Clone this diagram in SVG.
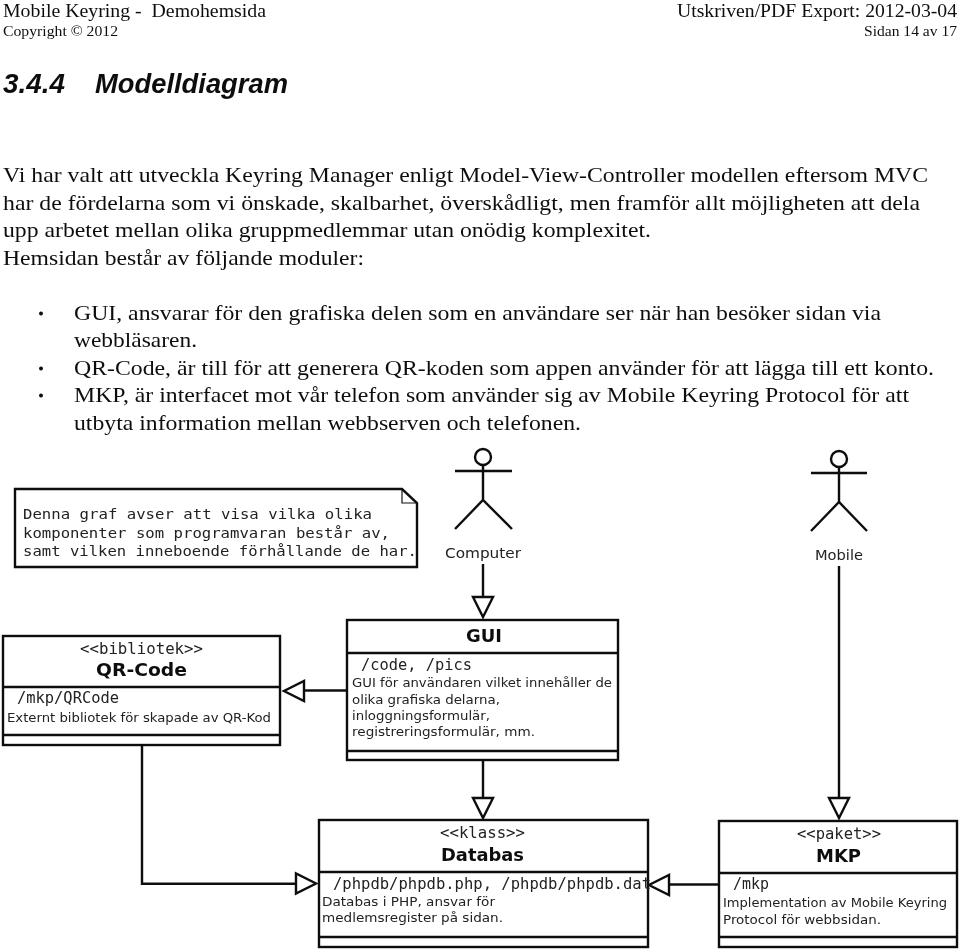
<svg xmlns="http://www.w3.org/2000/svg" width="960" height="949" viewBox="0 0 960 949">
<defs>
<filter id="soft" x="0" y="0" width="100%" height="100%" filterUnits="userSpaceOnUse" primitiveUnits="userSpaceOnUse"><feGaussianBlur stdDeviation="0.4"/></filter>
</defs>
<style>
text{white-space:pre}
.s{font-family:"Liberation Serif","Times New Roman",serif;fill:#111}
.b{font-size:22px}
.h1{font-size:19px}
.h2{font-size:14.7px}
.hd{font-family:"Liberation Sans",Arial,sans-serif;font-weight:bold;font-style:italic;font-size:27px;fill:#111}
.m{font-family:"DejaVu Sans Mono",monospace;fill:#222;font-size:15.3px}
.n{font-family:"DejaVu Sans Mono",monospace;fill:#222;font-size:14.6px}
.d{font-family:"DejaVu Sans",sans-serif;fill:#222;font-size:12.5px}
.a{font-family:"DejaVu Sans",sans-serif;fill:#222;font-size:14px}
.t{font-family:"DejaVu Sans",sans-serif;font-weight:bold;fill:#111;font-size:18px}
.box{fill:#fff;stroke:#111;stroke-width:2.4}
.ln{fill:none;stroke:#111;stroke-width:2.4}
.thin{fill:none;stroke:#111;stroke-width:1.2}
.tri{fill:#fff;stroke:#111;stroke-width:2.4;stroke-linejoin:miter}
.bul{fill:#111}
</style>
<rect width="960" height="949" fill="#fff"/>
<g filter="url(#soft)">
<g id="page-text">
<text class="s h1" x="3" y="17" textLength="263" lengthAdjust="spacingAndGlyphs">Mobile Keyring -  Demohemsida</text>
<text class="s h2" x="3" y="36" textLength="115" lengthAdjust="spacingAndGlyphs">Copyright © 2012</text>
<text class="s h1" x="677" y="17" textLength="280" lengthAdjust="spacingAndGlyphs">Utskriven/PDF Export: 2012-03-04</text>
<text class="s h2" x="864" y="36" textLength="93" lengthAdjust="spacingAndGlyphs">Sidan 14 av 17</text>
<text class="hd" x="3" y="93" textLength="62" lengthAdjust="spacingAndGlyphs">3.4.4</text>
<text class="hd" x="95" y="93" textLength="193" lengthAdjust="spacingAndGlyphs">Modelldiagram</text>
<text class="s b" x="3" y="182" textLength="925" lengthAdjust="spacingAndGlyphs">Vi har valt att utveckla Keyring Manager enligt Model-View-Controller modellen eftersom MVC</text>
<text class="s b" x="3" y="210" textLength="917" lengthAdjust="spacingAndGlyphs">har de fördelarna som vi önskade, skalbarhet, överskådligt, men framför allt möjligheten att dela</text>
<text class="s b" x="3" y="237" textLength="648" lengthAdjust="spacingAndGlyphs">upp arbetet mellan olika gruppmedlemmar utan onödig komplexitet.</text>
<text class="s b" x="3" y="265" textLength="361" lengthAdjust="spacingAndGlyphs">Hemsidan består av följande moduler:</text>
<circle class="bul" cx="41" cy="313.5" r="2"/>
<text class="s b" x="74" y="320" textLength="807" lengthAdjust="spacingAndGlyphs">GUI, ansvarar för den grafiska delen som en användare ser när han besöker sidan via</text>
<text class="s b" x="74" y="347" textLength="123" lengthAdjust="spacingAndGlyphs">webbläsaren.</text>
<circle class="bul" cx="41" cy="368.5" r="2"/>
<text class="s b" x="74" y="375" textLength="860" lengthAdjust="spacingAndGlyphs">QR-Code, är till för att generera QR-koden som appen använder för att lägga till ett konto.</text>
<circle class="bul" cx="41" cy="395.5" r="2"/>
<text class="s b" x="74" y="402" textLength="835" lengthAdjust="spacingAndGlyphs">MKP, är interfacet mot vår telefon som använder sig av Mobile Keyring Protocol för att</text>
<text class="s b" x="74" y="430" textLength="507" lengthAdjust="spacingAndGlyphs">utbyta information mellan webbserven och telefonen.</text>
</g>
<g id="note">
<path class="box" d="M15 489H402L417 503V567H15Z"/>
<path class="thin" d="M402 489V503H417"/>
<text class="n" x="23" y="519" textLength="349" lengthAdjust="spacingAndGlyphs">Denna graf avser att visa vilka olika</text>
<text class="n" x="23" y="537.5" textLength="367" lengthAdjust="spacingAndGlyphs">komponenter som programvaran består av,</text>
<text class="n" x="23" y="556" textLength="394" lengthAdjust="spacingAndGlyphs">samt vilken inneboende förhållande de har.</text>
</g>
<g id="actor-computer">
<circle class="ln" cx="483" cy="457" r="8"/>
<path class="ln" d="M483 465V500M455 471H512M455 529L483 500L512 529"/>
<text class="a" x="445" y="557.5" textLength="76" lengthAdjust="spacingAndGlyphs">Computer</text>
</g>
<g id="actor-mobile">
<circle class="ln" cx="839" cy="459" r="8"/>
<path class="ln" d="M839 467V502M811 473H867M811 531L839 502L867 531"/>
<text class="a" x="815" y="560" textLength="48" lengthAdjust="spacingAndGlyphs">Mobile</text>
</g>
<g id="qr-code">
<rect class="box" x="3" y="636" width="277" height="109"/>
<path class="ln" d="M3 687H280M3 735H280"/>
<text class="m" x="80" y="654" textLength="123" lengthAdjust="spacingAndGlyphs">&lt;&lt;bibliotek&gt;&gt;</text>
<text class="t" x="96" y="676" textLength="91" lengthAdjust="spacingAndGlyphs">QR-Code</text>
<text class="m" x="17" y="703" textLength="102" lengthAdjust="spacingAndGlyphs">/mkp/QRCode</text>
<text class="d" x="7" y="722" textLength="264" lengthAdjust="spacingAndGlyphs">Externt bibliotek för skapade av QR-Kod</text>
</g>
<g id="gui">
<rect class="box" x="347" y="620" width="271" height="140"/>
<path class="ln" d="M347 653H618M347 751H618"/>
<text class="t" x="466" y="642" textLength="36" lengthAdjust="spacingAndGlyphs">GUI</text>
<text class="m" x="361" y="670" textLength="111" lengthAdjust="spacingAndGlyphs">/code, /pics</text>
<text class="d" x="352" y="687" textLength="260" lengthAdjust="spacingAndGlyphs">GUI för användaren vilket innehåller de</text>
<text class="d" x="352" y="704" textLength="148" lengthAdjust="spacingAndGlyphs">olika grafiska delarna,</text>
<text class="d" x="352" y="720" textLength="138" lengthAdjust="spacingAndGlyphs">inloggningsformulär,</text>
<text class="d" x="352" y="736" textLength="183" lengthAdjust="spacingAndGlyphs">registreringsformulär, mm.</text>
</g>
<g id="databas">
<rect class="box" x="319" y="820" width="329" height="127"/>
<path class="ln" d="M319 872H648M319 937H648"/>
<text class="m" x="440" y="838" textLength="85" lengthAdjust="spacingAndGlyphs">&lt;&lt;klass&gt;&gt;</text>
<text class="t" x="441" y="861" textLength="83" lengthAdjust="spacingAndGlyphs">Databas</text>
<text class="m" x="333" y="889" textLength="318" lengthAdjust="spacingAndGlyphs">/phpdb/phpdb.php, /phpdb/phpdb.dat</text>
<text class="d" x="322" y="906" textLength="173" lengthAdjust="spacingAndGlyphs">Databas i PHP, ansvar för</text>
<text class="d" x="322" y="922" textLength="181" lengthAdjust="spacingAndGlyphs">medlemsregister på sidan.</text>
</g>
<g id="mkp">
<rect class="box" x="719" y="821" width="238" height="126"/>
<path class="ln" d="M719 873H957M719 937H957"/>
<text class="m" x="797" y="839" textLength="84" lengthAdjust="spacingAndGlyphs">&lt;&lt;paket&gt;&gt;</text>
<text class="t" x="816" y="862" textLength="45" lengthAdjust="spacingAndGlyphs">MKP</text>
<text class="m" x="733" y="889" textLength="36" lengthAdjust="spacingAndGlyphs">/mkp</text>
<text class="d" x="723" y="907" textLength="224" lengthAdjust="spacingAndGlyphs">Implementation av Mobile Keyring</text>
<text class="d" x="723" y="924" textLength="158" lengthAdjust="spacingAndGlyphs">Protocol för webbsidan.</text>
</g>
<g id="connectors">
<path class="ln" d="M483 564V597"/><path class="tri" d="M473 597H493L483 617Z"/>
<path class="ln" d="M347 690.5H304"/><path class="tri" d="M304 681V701L284 691Z"/>
<path class="ln" d="M483 760V798"/><path class="tri" d="M473 798H493L483 818Z"/>
<path class="ln" d="M839 566V798"/><path class="tri" d="M829 798H849L839 818Z"/>
<path class="ln" d="M142 745V883.7H296"/><path class="tri" d="M296 873.5V893.5L316 883.5Z"/>
<path class="ln" d="M719 884.5H669"/><path class="tri" d="M669 875V895L649 885Z"/>
</g>
</g>
</svg>
